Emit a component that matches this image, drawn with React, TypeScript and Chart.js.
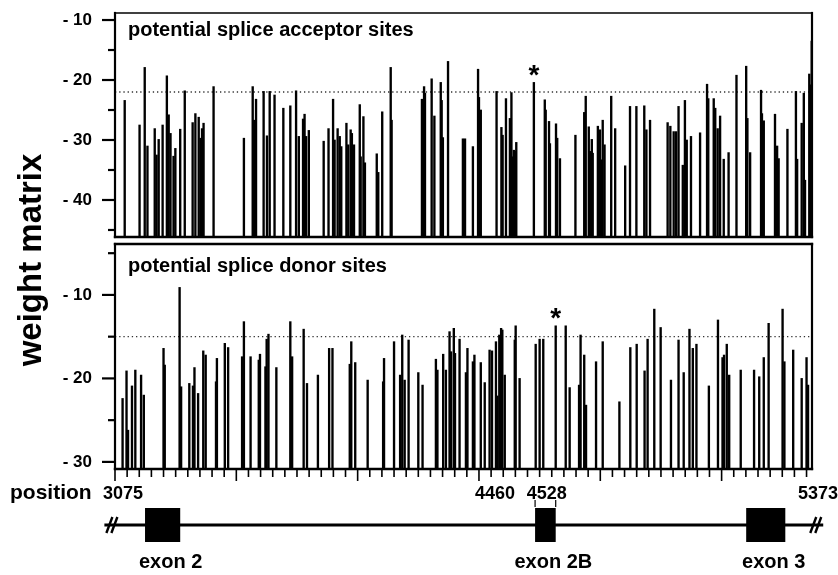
import React, { useEffect, useRef } from "react";
import { Chart, registerables } from "chart.js";
Chart.register(...registerables);

const W = 838;
const H = 575;
const FONT = "'Liberation Sans', Arial, Helvetica, sans-serif";

// ---- position axis (bp) ----
const X_MIN = 3075;
const X_MAX = 5373;
const positionTickStep = 40;
const positionMajorEvery = 10;
const positionLabels = [3075, 4460, 4528, 5373];

// ---- acceptor panel ----
const acceptorPos = [
  3107, 3156, 3173, 3182, 3206, 3212, 3219, 3232, 3246, 3252, 3258, 3268, 3274, 3290, 3305, 3331, 3340, 3351, 3357, 3362,
  3367, 3400, 3500, 3529, 3534, 3540, 3565, 3576, 3585, 3601, 3630, 3653, 3672, 3681, 3695, 3700, 3705, 3714, 3763, 3779,
  3794, 3799, 3809, 3816, 3821, 3838, 3844, 3852, 3856, 3863, 3882, 3885, 3894, 3899, 3938, 3943, 3956, 3984, 3987, 4087,
  4094, 4097, 4119, 4128, 4149, 4152, 4156, 4173, 4222, 4229, 4255, 4272, 4275, 4281, 4333, 4349, 4353, 4364, 4377, 4382,
  4385, 4390, 4394, 4398, 4456, 4492, 4495, 4506, 4509, 4529, 4533, 4542, 4593, 4622, 4627, 4637, 4641, 4647, 4650, 4667,
  4674, 4677, 4683, 4689, 4711, 4724, 4757, 4773, 4794, 4820, 4827, 4839, 4897, 4906, 4917, 4925, 4933, 4947, 4954, 4960,
  4974, 5004, 5027, 5031, 5049, 5054, 5062, 5070, 5082, 5098, 5124, 5156, 5160, 5169, 5205, 5208, 5214, 5251, 5258, 5263,
  5292, 5320, 5324, 5339, 5346, 5350, 5364, 5367, 5372,
];
const acceptorVal = [
  -23.4, -27.5, -17.9, -31.0, -28.1, -32.5, -29.9, -27.5, -19.3, -25.8, -28.9, -32.7, -31.4, -28.2, -21.8, -27.1, -25.6, -26.2, -29.7, -28.1,
  -27.2, -21.1, -29.7, -21.1, -26.7, -23.2, -21.9, -29.3, -21.9, -22.5, -24.7, -24.3, -21.8, -29.4, -26.5, -25.7, -29.4, -28.4, -30.2, -28.1,
  -23.2, -30.0, -28.1, -29.4, -31.1, -27.2, -30.8, -28.3, -28.9, -30.8, -24.1, -32.8, -26.1, -33.8, -32.3, -35.4, -25.3, -17.9, -26.7, -23.2,
  -21.1, -22.2, -19.8, -26.0, -20.4, -23.4, -29.6, -16.9, -29.8, -29.8, -31.1, -18.2, -22.9, -25.0, -21.9, -27.9, -29.2, -23.1, -26.4, -22.1,
  -32.8, -31.7, -31.9, -30.4, -20.4, -23.3, -25.0, -26.9, -30.6, -27.3, -29.7, -33.1, -29.2, -25.4, -22.7, -27.8, -31.9, -29.9, -32.2, -27.7,
  -28.3, -33.3, -26.7, -30.8, -22.7, -28.1, -34.3, -24.4, -24.4, -24.3, -28.3, -26.7, -27.1, -27.7, -28.6, -28.6, -24.4, -34.2, -23.4, -30.0,
  -29.4, -28.8, -20.7, -23.1, -23.1, -24.7, -28.1, -26.0, -33.2, -32.1, -19.2, -17.7, -26.4, -32.1, -21.7, -25.6, -26.8, -25.7, -31.0, -33.1,
  -28.2, -21.9, -33.2, -27.2, -22.2, -36.7, -19.0, -20.8, -13.5,
];
const acceptorThreshold = -22;
const acceptorStar = 4456;
const acceptorMajorTicks = [-10, -20, -30, -40];
const acceptorMinorTicks = [-15, -25, -35, -45];
const acceptorRange = [-46.17, -8.83];

// ---- donor panel ----
const donorPos = [
  3100, 3113, 3118, 3131, 3142, 3161, 3170, 3235, 3239, 3288, 3293, 3320, 3332, 3337, 3349, 3366, 3374, 3408, 3411, 3437,
  3448, 3494, 3500, 3522, 3549, 3553, 3571, 3575, 3581, 3607, 3653, 3659, 3697, 3708, 3744, 3781, 3792, 3849, 3854, 3867,
  3908, 3959, 3962, 3995, 4015, 4022, 4030, 4043, 4075, 4089, 4133, 4138, 4157, 4166, 4178, 4183, 4192, 4196, 4211, 4232,
  4237, 4255, 4260, 4281, 4294, 4310, 4318, 4331, 4336, 4342, 4348, 4352, 4360, 4393, 4396, 4409, 4462, 4475, 4487, 4528,
  4561, 4574, 4605, 4610, 4622, 4628, 4661, 4683, 4738, 4774, 4795, 4821, 4831, 4853, 4874, 4908, 4933, 4950, 4969, 4980,
  4992, 5033, 5063, 5078, 5083, 5092, 5100, 5138, 5182, 5199, 5214, 5230, 5276, 5282, 5311, 5339, 5355, 5360,
];
const donorVal = [
  -22.4, -19.1, -26.2, -20.9, -19.0, -19.6, -22.0, -16.4, -18.4, -9.1, -21.0, -20.6, -20.9, -18.7, -21.8, -16.7, -17.2, -20.4, -17.6, -15.8,
  -16.3, -17.4, -13.2, -17.4, -17.8, -17.1, -18.6, -15.3, -14.7, -18.7, -13.2, -17.4, -14.1, -20.6, -19.6, -16.4, -16.4, -18.3, -15.6, -18.1,
  -20.2, -20.4, -17.6, -15.6, -19.6, -14.8, -20.2, -15.4, -19.3, -20.8, -17.7, -19.0, -17.1, -19.0, -14.4, -16.8, -14.0, -17.0, -15.3, -19.3,
  -16.4, -18.0, -17.2, -18.1, -20.5, -16.6, -16.7, -15.6, -22.1, -14.8, -14.0, -14.2, -19.6, -15.4, -13.7, -20.0, -15.9, -15.3, -15.3, -13.7,
  -13.7, -21.1, -20.8, -14.8, -17.2, -23.2, -18.0, -15.6, -22.8, -16.3, -15.9, -19.1, -15.3, -11.7, -13.9, -20.2, -15.4, -19.3, -14.1, -16.4,
  -15.9, -20.9, -13.0, -17.5, -17.2, -15.9, -19.6, -19.0, -19.0, -19.8, -17.5, -13.4, -11.7, -18.0, -16.6, -20.0, -17.5, -20.8,
];
const donorThreshold = -15;
const donorStar = 4528;
const donorMajorTicks = [-10, -20, -30];
const donorMinorTicks = [-5, -15, -25];
const donorRange = [-30.85, -3.9];

// ---- gene structure ----
const exonNames = ["exon 2", "exon 2B", "exon 3"];
const exonStart = [3174, 4460, 5156];
const exonEnd = [3290, 4528, 5285];
const geneLineStart = 3040;
const geneLineEnd = 5410;
const bracketPos = [4460, 4528];

function seg(ctx: CanvasRenderingContext2D, x1: number, y1: number, x2: number, y2: number, w: number) {
  ctx.lineWidth = w;
  ctx.beginPath();
  ctx.moveTo(x1, y1);
  ctx.lineTo(x2, y2);
  ctx.stroke();
}

type PanelCfg = {
  pos: number[];
  val: number[];
  range: number[];
  padTop: number;
  padBottom: number;
  major: number[];
  minor: number[];
  threshold: number;
  title: string;
  titleY: number;
  star: number;
  topBorder: number;
  extra?: (chart: any) => void;
};

function makeChart(canvas: HTMLCanvasElement, cfg: PanelCfg) {
  const decor = {
    id: "panelDecor",
    beforeDatasetsDraw(chart: any) {
      const { ctx, chartArea: a, scales } = chart;
      const yy = scales.y.getPixelForValue(cfg.threshold);
      ctx.save();
      ctx.strokeStyle = "#333";
      ctx.setLineDash([1.3, 2.9]);
      seg(ctx, a.left, yy, a.right, yy, 1.3);
      ctx.restore();
    },
    afterDraw(chart: any) {
      const { ctx, chartArea: a, scales } = chart;
      const x = scales.x;
      const y = scales.y;
      ctx.save();
      ctx.setLineDash([]);
      ctx.globalAlpha = 1;
      ctx.strokeStyle = "#000";
      ctx.fillStyle = "#000";
      ctx.lineCap = "square";
      seg(ctx, a.left, a.top, a.right, a.top, cfg.topBorder);
      seg(ctx, a.left, a.top, a.left, a.bottom, 2.2);
      seg(ctx, a.right, a.top, a.right, a.bottom, 2.2);
      seg(ctx, a.left, a.bottom, a.right, a.bottom, 2.4);
      ctx.lineCap = "butt";
      cfg.major.forEach((v) => {
        const py = y.getPixelForValue(v);
        seg(ctx, a.left - 13, py, a.left, py, 2.2);
      });
      cfg.minor.forEach((v) => {
        const py = y.getPixelForValue(v);
        seg(ctx, a.left - 7, py, a.left, py, 2.2);
      });
      ctx.font = `bold 20px ${FONT}`;
      ctx.textAlign = "left";
      ctx.textBaseline = "alphabetic";
      ctx.fillText(cfg.title, a.left + 13, cfg.titleY);
      const si = cfg.pos.indexOf(cfg.star);
      const sx = x.getPixelForValue(cfg.star);
      const sy = y.getPixelForValue(cfg.val[si]) - 14;
      ctx.font = `bold 28px ${FONT}`;
      ctx.textAlign = "center";
      ctx.fillText("*", sx, sy + 0.55 * 28);
      ctx.restore();
      if (cfg.extra) cfg.extra(chart);
    },
  };

  return new Chart(canvas, {
    type: "bar",
    data: {
      datasets: [
        {
          data: cfg.pos.map((p, i) => ({ x: p, y: [cfg.range[0], cfg.val[i]] })) as any,
          backgroundColor: "#000",
          borderWidth: 0,
          barThickness: 1.7,
          grouped: false,
        } as any,
      ],
    },
    options: {
      animation: false,
      responsive: false,
      maintainAspectRatio: false,
      layout: { padding: { left: 0, right: 26, top: cfg.padTop, bottom: cfg.padBottom } },
      plugins: { legend: { display: false }, tooltip: { enabled: false } },
      scales: {
        x: { type: "linear", min: X_MIN, max: X_MAX, offset: false, display: false },
        y: {
          type: "linear",
          min: cfg.range[0],
          max: cfg.range[1],
          afterFit(s: any) {
            s.width = 115;
            s.paddingTop = 0;
            s.paddingBottom = 0;
          },
          afterBuildTicks(s: any) {
            s.ticks = cfg.major.map((v) => ({ value: v }));
          },
          grid: { display: false, drawTicks: false },
          border: { display: false },
          ticks: {
            padding: 23,
            color: "#000",
            font: { family: FONT, weight: "bold", size: 17 },
            callback: (v: any) => "- " + Math.abs(Number(v)),
          },
        },
      },
    } as any,
    plugins: [decor],
  });
}

function drawGene(chart: any) {
  const { ctx, chartArea: a, scales } = chart;
  const x = scales.x;
  ctx.save();
  ctx.setLineDash([]);
  ctx.globalAlpha = 1;
  ctx.strokeStyle = "#000";
  ctx.fillStyle = "#000";
  ctx.lineCap = "butt";
  // position ticks (ruler)
  const n = Math.floor((X_MAX - X_MIN) / positionTickStep);
  for (let k = 0; k <= n; k++) {
    const v = X_MIN + k * positionTickStep;
    const px = x.getPixelForValue(v);
    const len = k % positionMajorEvery === 0 ? 12 : 8;
    ctx.lineWidth = 1.6;
    ctx.beginPath();
    ctx.moveTo(px, a.bottom);
    ctx.lineTo(px, a.bottom + len);
    ctx.stroke();
  }
  // position labels
  ctx.textBaseline = "alphabetic";
  ctx.font = `bold 21px ${FONT}`;
  ctx.textAlign = "left";
  ctx.fillText("position", 10, 499);
  ctx.font = `bold 18px ${FONT}`;
  const lp = positionLabels.map((v) => x.getPixelForValue(v));
  ctx.textAlign = "left";
  ctx.fillText(String(positionLabels[0]), lp[0] - 12, 499);
  ctx.textAlign = "right";
  ctx.fillText(String(positionLabels[1]), lp[1] - 20, 499);
  ctx.textAlign = "left";
  ctx.fillText(String(positionLabels[2]), lp[2] - 29, 499);
  ctx.textAlign = "right";
  ctx.fillText(String(positionLabels[3]), W, 499);
  // brackets over exon 2B
  bracketPos.forEach((v) => {
    const px = x.getPixelForValue(v);
    seg(ctx, px, 500, px, 507, 1.2);
  });
  // gene line
  const lineY = 525;
  const gx1 = x.getPixelForValue(geneLineStart);
  const gx2 = x.getPixelForValue(geneLineEnd);
  seg(ctx, gx1, lineY, gx2, lineY, 3);
  // break marks
  [gx1 + 5, gx1 + 10, gx2 - 10, gx2 - 5].forEach((bx) => {
    seg(ctx, bx - 3, lineY + 8, bx + 3, lineY - 8, 2.4);
  });
  // exon boxes
  ctx.font = `bold 20px ${FONT}`;
  ctx.textAlign = "center";
  exonNames.forEach((nm, i) => {
    const x1 = x.getPixelForValue(exonStart[i]);
    const x2 = x.getPixelForValue(exonEnd[i]);
    ctx.fillRect(x1, 508, x2 - x1, 34);
    ctx.fillText(nm, (x1 + x2) / 2 + 8, 568);
  });
  // y title
  ctx.translate(32, 260);
  ctx.rotate(-Math.PI / 2);
  ctx.font = `bold 33px ${FONT}`;
  ctx.textAlign = "center";
  ctx.textBaseline = "middle";
  ctx.fillText("weight matrix", 0, 0);
  ctx.restore();
}

export default function App() {
  const topRef = useRef<HTMLCanvasElement>(null);
  const botRef = useRef<HTMLCanvasElement>(null);
  useEffect(() => {
    const c1 = makeChart(topRef.current!, {
      pos: acceptorPos,
      val: acceptorVal,
      range: acceptorRange,
      padTop: 13,
      padBottom: H - 237,
      major: acceptorMajorTicks,
      minor: acceptorMinorTicks,
      threshold: acceptorThreshold,
      title: "potential splice acceptor sites",
      titleY: 36,
      star: acceptorStar,
      topBorder: 1.3,
    });
    const c2 = makeChart(botRef.current!, {
      pos: donorPos,
      val: donorVal,
      range: donorRange,
      padTop: 244,
      padBottom: H - 469,
      major: donorMajorTicks,
      minor: donorMinorTicks,
      threshold: donorThreshold,
      title: "potential splice donor sites",
      titleY: 272,
      star: donorStar,
      topBorder: 2.4,
      extra: drawGene,
    });
    return () => {
      c1.destroy();
      c2.destroy();
    };
  }, []);
  const cs: React.CSSProperties = { position: "absolute", left: 0, top: 0, width: W, height: H };
  return (
    <div style={{ position: "absolute", left: 0, top: 0, width: W, height: H, background: "#fff" }}>
      <canvas ref={topRef} width={W} height={H} style={cs} />
      <canvas ref={botRef} width={W} height={H} style={cs} />
    </div>
  );
}
